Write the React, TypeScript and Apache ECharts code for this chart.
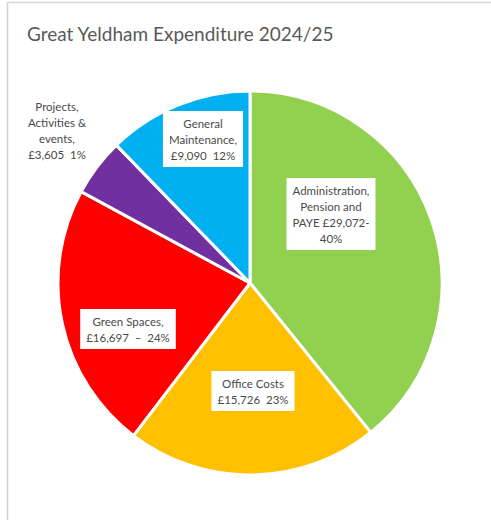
import React, { useEffect, useRef } from "react";
import * as echarts from "echarts";

const categories = [
  "Administration, Pension and PAYE",
  "Office Costs",
  "Green Spaces",
  "Projects, Activities & events",
  "General Maintenance",
];
const values = [29072, 15726, 16697, 3605, 9090];
const labelTexts = [
  "Administration,\nPension and\nPAYE £29,072-\n40%",
  "Office Costs\n£15,726  23%",
  "Green Spaces,\n£16,697  –  24%",
  "Projects,\nActivities &\nevents,\n£3,605  1%",
  "General\nMaintenance,\n£9,090  12%",
];
const colors = ["#92D050", "#FFC000", "#FF0000", "#7030A0", "#00B0F0"];
const title = "Great Yeldham Expenditure 2024/25";

// label centre positions (pixels)
const labelPos: [number, number][] = [
  [331, 214],
  [253, 391],
  [128, 329],
  [57, 130],
  [203, 139],
];

export default function App() {
  const ref = useRef<HTMLDivElement>(null);
  useEffect(() => {
    if (!ref.current) return;
    const chart = echarts.init(ref.current, null, { renderer: "svg" });
    const font = "Lato, 'Open Sans', sans-serif";
    chart.setOption({
      animation: false,
      backgroundColor: "#ffffff",
      title: {
        text: title,
        left: 22,
        top: 19,
        textStyle: {
          fontFamily: font,
          fontSize: 19,
          fontWeight: "normal",
          color: "#595959",
        },
      },
      graphic: [
        { type: "line", shape: { x1: 7.5, y1: 2, x2: 7.5, y2: 520 }, style: { stroke: "#d0d0d0", lineWidth: 1.5 } },
        { type: "line", shape: { x1: 7, y1: 2.5, x2: 491, y2: 2.5 }, style: { stroke: "#d8d8d8", lineWidth: 1.5 } },
      ],
      series: [
        {
          type: "pie",
          center: [250, 283],
          radius: [0, 192],
          startAngle: 90,
          clockwise: true,
          itemStyle: { borderColor: "#ffffff", borderWidth: 3 },
          label: {
            show: true,
            position: "inside",
            formatter: (p: any) => labelTexts[p.dataIndex],
            fontFamily: font,
            fontSize: 11.5,
            lineHeight: 16,
            color: "#4a4a4a",
            backgroundColor: "#ffffff",
            padding: [4, 6],
            align: "center",
          },
          labelLine: { show: false },
          labelLayout: (params: any) => {
            const [x, y] = labelPos[params.dataIndex];
            return { x, y, align: "center", verticalAlign: "middle" };
          },
          emphasis: { disabled: true },
          data: categories.map((name, i) => ({
            name,
            value: values[i],
            itemStyle: { color: colors[i] },
          })),
        },
      ],
    });
    return () => chart.dispose();
  }, []);
  return (
    <div
      ref={ref}
      style={{ position: "fixed", left: 0, top: 0, width: 491, height: 520 }}
    />
  );
}
